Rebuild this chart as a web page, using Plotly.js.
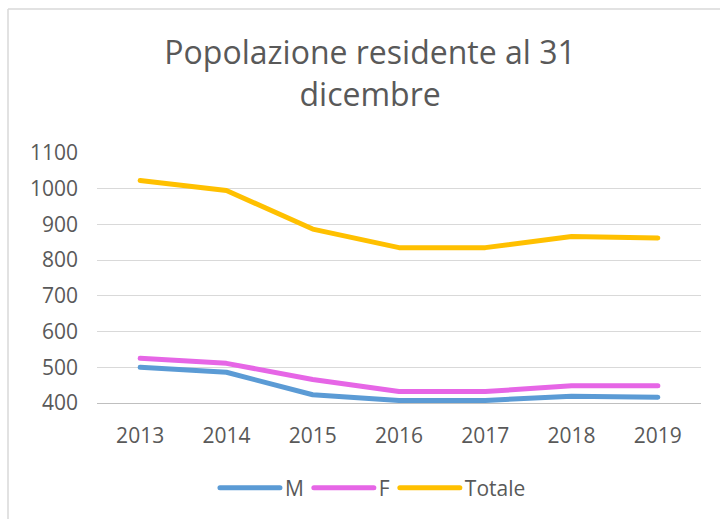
<!DOCTYPE html>
<html>
<head>
<meta charset="utf-8">
<script src="https://cdn.plot.ly/plotly-3.0.1.min.js"></script>
<style>
html,body{margin:0;padding:0;background:#fff;}
#chart{width:720px;height:519px;}
#chart .scatterlayer path.js-line, #chart .legendlines path{stroke-linecap:round !important;stroke-linejoin:round !important;}
</style>
</head>
<body>
<div id="chart"></div>
<script>
var years = ['2013','2014','2015','2016','2017','2018','2019'];
var maschi = [500, 486, 423, 407, 407, 419, 416];
var femmine = [525, 511, 466, 432, 432, 448, 448];
var totale = [1023, 995, 887, 835, 835, 866, 862];
var yTicks = [400, 500, 600, 700, 800, 900, 1000, 1100];

var font = 'Open Sans, Liberation Sans, sans-serif';
var grey = '#595959';

var traces = [
  {x: years, y: maschi, name: 'M', type: 'scatter', mode: 'lines', line: {color: '#5B9BD5', width: 5}},
  {x: years, y: femmine, name: 'F', type: 'scatter', mode: 'lines', line: {color: '#E666E6', width: 5}},
  {x: years, y: totale, name: 'Totale', type: 'scatter', mode: 'lines', line: {color: '#FFC000', width: 5}}
];

var layout = {
  width: 720, height: 519,
  margin: {l: 97, r: 19, t: 153, b: 116},
  paper_bgcolor: '#fff', plot_bgcolor: '#fff',
  font: {family: font, color: grey, size: 21},
  title: {
    text: 'Popolazione residente al 31<br>dicembre',
    font: {family: font, size: 32, color: grey},
    x: 0.514, xref: 'container', xanchor: 'center',
    y: 1 - 64/519, yref: 'container', yanchor: 'top'
  },
  xaxis: {
    type: 'category', range: [-0.5, 6.5],
    showgrid: false, zeroline: false,
    showline: true, linecolor: '#BFBFBF', linewidth: 1,
    ticks: '', ticklabelstandoff: 14,
    tickfont: {family: font, size: 21, color: grey},
    fixedrange: true
  },
  yaxis: {
    range: [400, 1100], tickvals: yTicks,
    showgrid: true, gridcolor: '#D9D9D9', gridwidth: 1,
    zeroline: false, showline: false,
    ticks: '', ticklabelstandoff: 18,
    tickfont: {family: font, size: 21, color: grey},
    fixedrange: true
  },
  showlegend: true,
  legend: {
    orientation: 'h',
    x: 0.518, xref: 'container', xanchor: 'center',
    y: 1 - 488/519, yref: 'container', yanchor: 'middle',
    font: {family: font, size: 21, color: grey},
    itemwidth: 60,
    traceorder: 'normal'
  },
  shapes: [
    {type: 'line', xref: 'paper', yref: 'paper', x0: (8-97)/604, x1: (720-97)/604, y0: 1 + (153-9)/250, y1: 1 + (153-9)/250, line: {color: '#D9D9D9', width: 1.5}},
    {type: 'line', xref: 'paper', yref: 'paper', x0: (8-97)/604, x1: (8-97)/604, y0: 1 + (153-9)/250, y1: 1 - (519-153)/250, line: {color: '#D9D9D9', width: 1.5}}
  ]
};

Plotly.newPlot('chart', traces, layout, {displayModeBar: false, staticPlot: true});
</script>
</body>
</html>
